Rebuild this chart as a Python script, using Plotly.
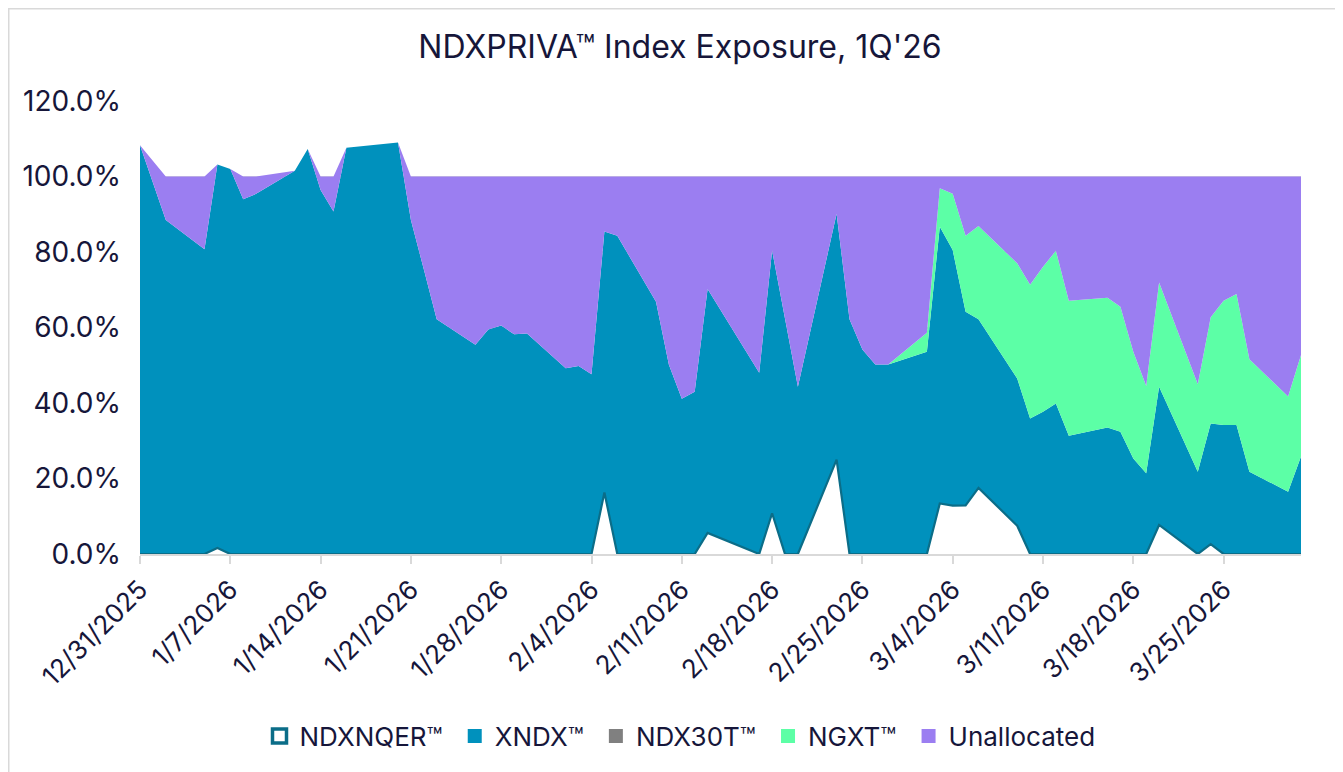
import plotly.graph_objects as go

dates = ["2025-12-31", "2026-01-02", "2026-01-05", "2026-01-06", "2026-01-07", "2026-01-08", "2026-01-09",
         "2026-01-12", "2026-01-13", "2026-01-14", "2026-01-15", "2026-01-16",
         "2026-01-20", "2026-01-21", "2026-01-22", "2026-01-23",
         "2026-01-26", "2026-01-27", "2026-01-28", "2026-01-29", "2026-01-30",
         "2026-02-02", "2026-02-03", "2026-02-04", "2026-02-05", "2026-02-06",
         "2026-02-09", "2026-02-10", "2026-02-11", "2026-02-12", "2026-02-13",
         "2026-02-17", "2026-02-18", "2026-02-19", "2026-02-20",
         "2026-02-23", "2026-02-24", "2026-02-25", "2026-02-26", "2026-02-27",
         "2026-03-02", "2026-03-03", "2026-03-04", "2026-03-05", "2026-03-06",
         "2026-03-09", "2026-03-10", "2026-03-11", "2026-03-12", "2026-03-13",
         "2026-03-16", "2026-03-17", "2026-03-18", "2026-03-19", "2026-03-20",
         "2026-03-23", "2026-03-24", "2026-03-25", "2026-03-26", "2026-03-27",
         "2026-03-30", "2026-03-31"]

ndxnqer = [0, 0, 0, 1.6, 0, 0, 0,
           0, 0, 0, 0, 0,
           0, 0, 0, 0,
           0, 0, 0, 0, 0,
           0, 0, 0, 16.3, 0,
           0, 0, 0, 0, 5.6,
           0, 10.8, 0, 0,
           25.0, 0, 0, 0, 0,
           0, 13.4, 12.8, 12.9, 17.5,
           7.5, 0, 0, 0, 0,
           0, 0, 0, 0, 7.7,
           0, 2.6, 0, 0, 0,
           0, 0]

xndx = [108.3, 88.5, 80.7, 101.6, 102.0, 94.0, 95.4,
        101.5, 107.3, 96.4, 90.7, 107.6,
        109.0, 88.5, 75.4, 62.2,
        55.4, 59.5, 60.5, 58.2, 58.4,
        49.2, 49.8, 47.6, 69.1, 84.3,
        66.8, 50.1, 41.1, 43.0, 64.6,
        48.0, 69.6, 62.0, 44.3,
        65.1, 62.2, 54.2, 50.2, 50.2,
        53.6, 73.3, 67.7, 51.3, 44.7,
        39.0, 35.9, 37.7, 39.9, 31.3,
        33.5, 32.4, 25.3, 21.4, 36.6,
        21.8, 32.0, 34.2, 34.2, 21.8,
        16.5, 25.8]

ndx30t = [0] * 62

ngxt = [0, 0, 0, 0, 0, 0, 0,
        0, 0, 0, 0, 0,
        0, 0, 0, 0,
        0, 0, 0, 0, 0,
        0, 0, 0, 0, 0,
        0, 0, 0, 0, 0,
        0, 0, 0, 0,
        0, 0, 0, 0, 0,
        5.0, 10.2, 14.9, 20.1, 24.7,
        30.5, 35.4, 38.4, 40.4, 35.8,
        34.4, 33.1, 28.3, 23.1, 27.6,
        23.2, 28.1, 32.9, 34.7, 29.8,
        25.2, 26.9]

unallocated = [0, 11.5, 19.3, 0, 0, 6.0, 4.6,
               0, 0, 3.6, 9.3, 0,
               0, 11.5, 24.6, 37.8,
               44.6, 40.5, 39.5, 41.8, 41.6,
               50.8, 50.2, 52.4, 14.6, 15.7,
               33.2, 49.9, 58.9, 57.0, 29.8,
               52.0, 19.6, 38.0, 55.7,
               9.9, 37.8, 45.8, 49.8, 49.8,
               41.4, 3.1, 4.6, 15.7, 13.1,
               23.0, 28.7, 23.9, 19.7, 32.9,
               32.1, 34.5, 46.4, 55.5, 28.1,
               55.0, 37.3, 32.9, 31.1, 48.4,
               58.3, 47.3]

tick_dates = ["2025-12-31", "2026-01-07", "2026-01-14", "2026-01-21", "2026-01-28", "2026-02-04",
              "2026-02-11", "2026-02-18", "2026-02-25", "2026-03-04", "2026-03-11", "2026-03-18",
              "2026-03-25"]
tick_text = ["12/31/2025", "1/7/2026", "1/14/2026", "1/21/2026", "1/28/2026", "2/4/2026",
             "2/11/2026", "2/18/2026", "2/25/2026", "3/4/2026", "3/11/2026", "3/18/2026",
             "3/25/2026"]
y_ticks = [0, 20, 40, 60, 80, 100, 120]
y_text = ["0.0%", "20.0%", "40.0%", "60.0%", "80.0%", "100.0%", "120.0%"]

TEXT = "#16163a"
FONT = "Inter"
W, H = 1343, 772
ML, MT, MR, MB = 132, 93, 50, 226
PW, PH = W - ML - MR, H - MT - MB

fig = go.Figure()
series = [
    ("NDXNQER™", ndxnqer, "#ffffff", "#0b6d88", 2.2),
    ("XNDX™", xndx, "#0091bd", "#0091bd", 0),
    ("NDX30T™", ndx30t, "#808080", "#808080", 0),
    ("NGXT™", ngxt, "#5cffa6", "#5cffa6", 0),
    ("Unallocated", unallocated, "#9b7ef1", "#9b7ef1", 0),
]
for name, vals, fillc, linec, lw in series:
    fig.add_trace(go.Scatter(
        x=dates, y=vals, name=name, mode="lines", stackgroup="one",
        fillcolor=fillc, line=dict(color=linec, width=lw), showlegend=False,
    ))

# legend entries with square swatches
for i, (name, vals, fillc, linec, lw) in enumerate(series):
    pad = "\u00a0" if i < len(series) - 1 else ""
    if lw > 0:
        mk = dict(symbol="square", size=14, color="#ffffff", line=dict(color=linec, width=3.5))
    else:
        mk = dict(symbol="square", size=14, color=fillc, line=dict(width=0))
    fig.add_trace(go.Scatter(x=[None], y=[None], mode="markers", name=name + pad, marker=mk,
                             showlegend=True, hoverinfo="skip"))

fig.update_layout(
    width=W, height=H,
    paper_bgcolor="white", plot_bgcolor="white",
    margin=dict(l=ML, r=MR, t=MT, b=MB),
    font=dict(family=FONT, color=TEXT, size=26),
    title=dict(text="NDXPRIVA™ Index Exposure, 1Q'26", x=672 / W, xref="container",
               y=1 - 39 / H, yref="container", xanchor="center", yanchor="middle",
               font=dict(family=FONT, size=32, color=TEXT)),
    showlegend=True,
    legend=dict(orientation="h", x=672 / W, xref="container", xanchor="center",
                y=1 - 728 / H, yref="container", yanchor="middle",
                font=dict(family=FONT, size=26, color=TEXT), traceorder="normal",
                itemwidth=30, tracegroupgap=0),
    xaxis=dict(type="date", range=["2025-12-31", "2026-03-31"], tickvals=tick_dates, ticktext=tick_text,
               tickangle=-45, showgrid=False, showline=True, linecolor="#d9d9d9", linewidth=2,
               ticks="outside", ticklen=8, tickcolor="#d9d9d9", tickwidth=2,
               tickfont=dict(family=FONT, size=26, color=TEXT)),
    yaxis=dict(range=[0, 120], tickvals=y_ticks, ticktext=y_text, showgrid=True,
               gridcolor="#d9d9d9", gridwidth=1.5, zeroline=False, showline=False,
               ticklabelstandoff=18, tickfont=dict(family=FONT, size=28, color=TEXT)),
    shapes=[dict(type="rect", xref="paper", yref="paper",
                 x0=(0.75 - ML) / PW, x1=(W - 0.75 - ML) / PW,
                 y0=-(MB - 0.75) / PH, y1=1 + (MT - 0.75) / PH,
                 line=dict(color="#d9d9d9", width=1.5), layer="below")],
)

fig.write_html("out.html")
